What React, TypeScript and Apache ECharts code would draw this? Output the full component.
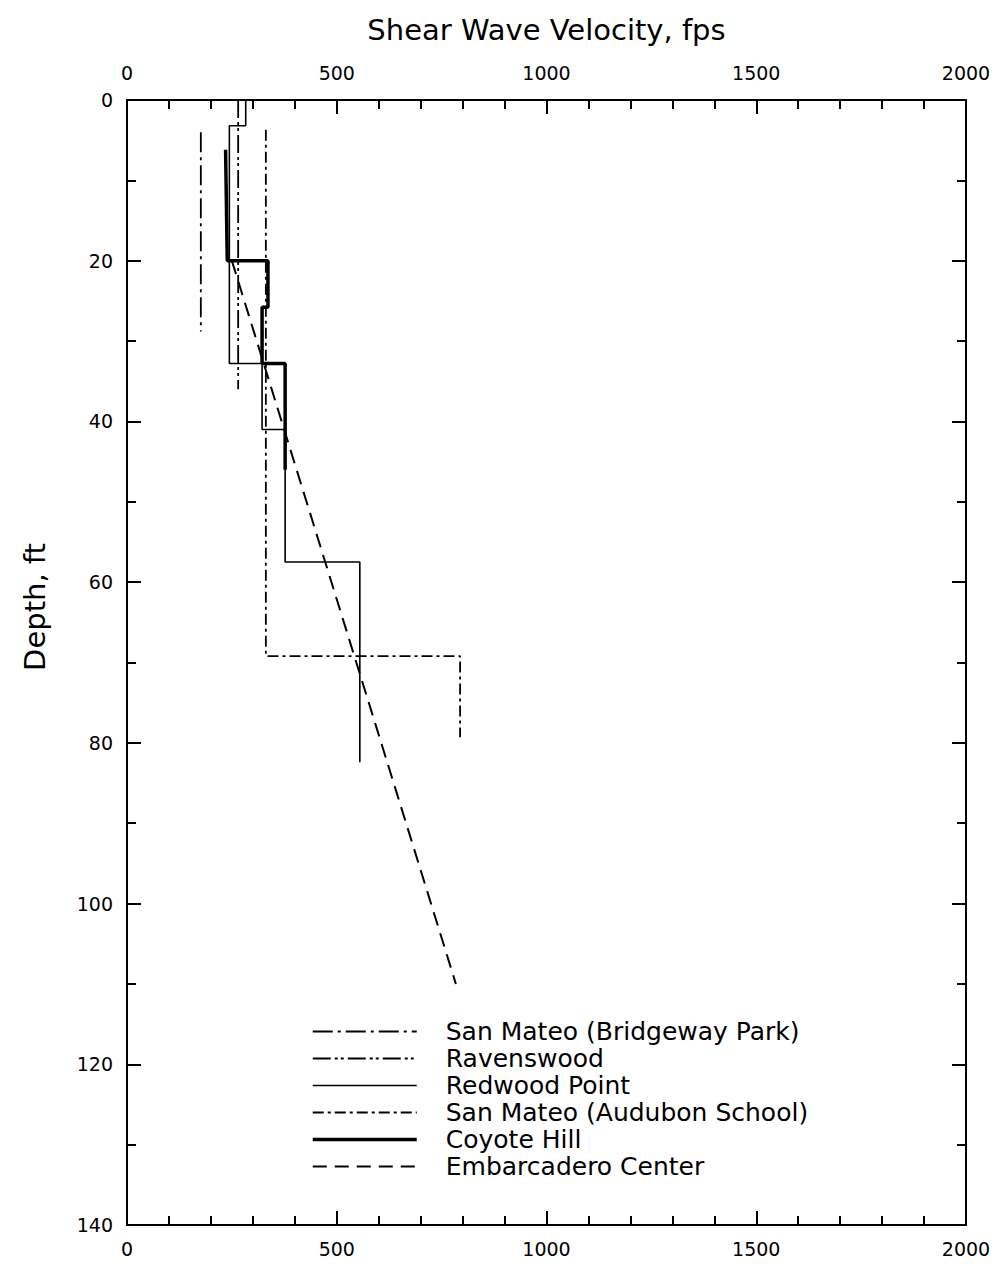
import React, { useEffect, useRef } from "react";
import * as echarts from "echarts";

const FONT = "DejaVu Sans";

const seriesNames = [
  "San Mateo (Bridgeway Park)",
  "Ravenswood",
  "Redwood Point",
  "San Mateo (Audubon School)",
  "Coyote Hill",
  "Embarcadero Center",
];

// [velocity fps, depth ft]
const bridgewayPark: number[][] = [
  [176, 4],
  [176, 28.8],
];
const ravenswood: number[][] = [
  [265, 0],
  [265, 36],
];
const redwoodPoint: number[][] = [
  [283, 0],
  [283, 3.2],
  [244, 3.2],
  [244, 32.8],
  [322, 32.8],
  [322, 41],
  [377, 41],
  [377, 57.5],
  [555, 57.5],
  [555, 82.4],
];
const audubonSchool: number[][] = [
  [331, 3.7],
  [331, 69.2],
  [794, 69.2],
  [794, 79.3],
];
const coyoteHill: number[][] = [
  [235, 6.2],
  [239, 20],
  [336, 20],
  [336, 25.8],
  [322, 25.8],
  [322, 32.8],
  [377, 32.8],
  [377, 46],
];
const embarcadero: number[][] = [
  [250, 20],
  [784, 110],
];

const seriesData = [bridgewayPark, ravenswood, redwoodPoint, audubonSchool, coyoteHill, embarcadero];
const lineTypes: any[] = [[20, 5, 3, 5], [18, 4, 3, 3, 3, 4], "solid", [11, 4, 3, 4], "solid", [14, 8]];
const lineWidths = [1.8, 1.8, 1.6, 1.8, 3.5, 2];

const velocityMin = 0;
const velocityMax = 2000;
const velocityStep = 500;
const depthMin = 0;
const depthMax = 140;
const depthStep = 20;

export default function App() {
  const ref = useRef<HTMLDivElement>(null);
  useEffect(() => {
    if (!ref.current) return;
    const chart = echarts.init(ref.current, undefined, { renderer: "svg" });
    const axisLine = { show: true, onZero: false, lineStyle: { color: "#000", width: 2 } };
    const axisTick = { show: true, inside: true, length: 14, lineStyle: { color: "#000", width: 2 } };
    const labelStyle = {
      color: "#000",
      fontFamily: FONT,
      fontSize: 19,
      formatter: (v: number) => String(v),
    };
    const xCommon = {
      type: "value",
      min: velocityMin,
      max: velocityMax,
      interval: velocityStep,
      axisLine,
      axisTick,
      minorTick: { show: true, splitNumber: 5, length: 9, lineStyle: { color: "#000", width: 2 } },
      splitLine: { show: false },
      minorSplitLine: { show: false },
    };
    const yCommon = {
      type: "value",
      inverse: true,
      min: depthMin,
      max: depthMax,
      interval: depthStep,
      axisLine,
      axisTick,
      minorTick: { show: true, splitNumber: 2, length: 9, lineStyle: { color: "#000", width: 2 } },
      splitLine: { show: false },
      minorSplitLine: { show: false },
    };
    chart.setOption({
      animation: false,
      backgroundColor: "#fff",
      grid: { left: 127, right: 31, top: 100, bottom: 44, containLabel: false },
      xAxis: [
        { ...xCommon, position: "bottom", axisLabel: { ...labelStyle, margin: 14 } },
        {
          ...xCommon,
          position: "top",
          axisLabel: { ...labelStyle, margin: 18 },
          name: "Shear Wave Velocity, fps",
          nameLocation: "middle",
          nameGap: 56,
          nameTextStyle: { color: "#000", fontFamily: FONT, fontSize: 29 },
        },
      ],
      yAxis: [
        { ...yCommon, position: "left", axisLabel: { ...labelStyle, margin: 14 } },
        { ...yCommon, position: "right", axisLabel: { show: false } },
      ],
      legend: {
        orient: "vertical",
        left: 306,
        top: 1014,
        itemWidth: 104,
        itemHeight: 14,
        itemGap: 2,
        itemStyle: { color: "rgba(0,0,0,0)", borderColor: "rgba(0,0,0,0)", borderWidth: 0 },
        textStyle: { color: "#000", fontFamily: FONT, fontSize: 25, padding: [0, 0, 0, 24] },
        data: seriesNames.map((name, i) => ({
          name,
          lineStyle: { color: "#000", width: lineWidths[i], type: lineTypes[i] },
        })),
      },
      graphic: [
        {
          type: "text",
          x: 35,
          y: 607,
          rotation: Math.PI / 2,
          style: {
            text: "Depth, ft",
            fill: "#000",
            font: `29px "${FONT}"`,
            align: "center",
            verticalAlign: "middle",
          },
        },
      ],
      series: seriesNames.map((name, i) => ({
        name,
        type: "line",
        xAxisIndex: 0,
        yAxisIndex: 0,
        data: seriesData[i],
        showSymbol: false,
        symbol: "none",
        silent: true,
        lineStyle: { color: "#000", width: lineWidths[i], type: lineTypes[i] },
        itemStyle: { color: "#000" },
      })),
    });
    return () => chart.dispose();
  }, []);
  return <div ref={ref} style={{ position: "absolute", left: 0, top: 0, width: 997, height: 1269 }} />;
}
